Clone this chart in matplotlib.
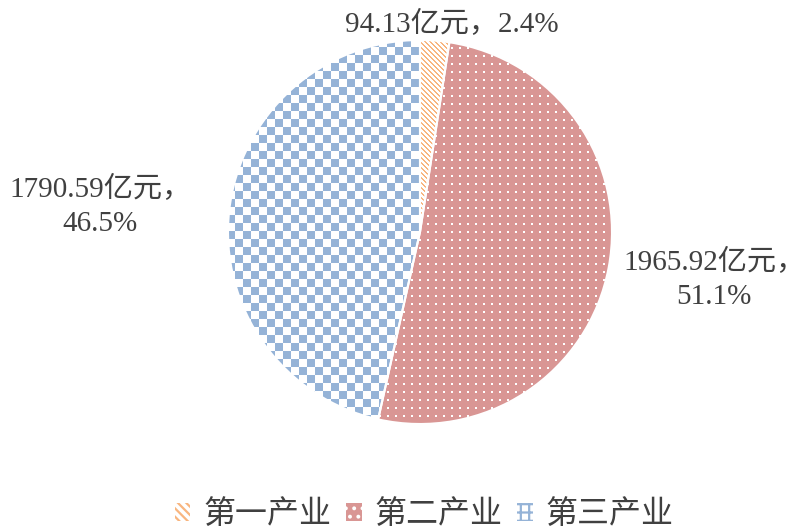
import matplotlib.pyplot as plt
import numpy as np
from matplotlib.patches import Patch, Wedge
from matplotlib.colors import to_rgb

plt.rcParams['font.family'] = ['Liberation Serif', 'Noto Sans CJK SC']
plt.rcParams['hatch.linewidth'] = 1.6

# 数据
categories = ['第一产业', '第二产业', '第三产业']
values = [94.13, 1965.92, 1790.59]
percents = ['2.4%', '51.1%', '46.5%']

colors = {
    'orange': '#F8B57F',
    'red': '#D99694',
    'blue': '#95B3D7',
    'text': '#404040',
}

fig = plt.figure(figsize=(8.11, 5.32), dpi=100)
ax = fig.add_axes([0, 0, 1, 1])

cx, cy, r = 420, 300, 192
wedges, _ = ax.pie(values, center=(cx, cy), radius=r, startangle=90,
                   counterclock=False, frame=True,
                   wedgeprops=dict(linewidth=0, facecolor='white'))

# 纹理 (像素级)
size = 2 * r + 2
rows, cols = np.mgrid[0:size, 0:size]

def texture(mask, fg, bg):
    img = np.empty((size, size, 3))
    img[:] = to_rgb(bg)
    img[mask] = to_rgb(fg)
    return img

tex = [
    texture((cols - rows) % 5 < 2, colors['orange'], 'white'),            # 斜线
    texture((rows % 8 < 2) & (cols % 8 < 2), 'white', colors['red']),    # 点
    texture(((rows // 8) + (cols // 8)) % 2 == 0, colors['blue'], 'white'),  # 棋盘格
]
for w, t in zip(wedges, tex):
    im = ax.imshow(t, extent=(cx - r - 1, cx + r + 1, cy - r - 1, cy + r + 1),
                   origin='upper', interpolation='nearest', zorder=2)
    im.set_clip_path(w)

# 白色分隔线
for w in wedges:
    ax.add_patch(Wedge((cx, cy), r, w.theta1, w.theta2, facecolor='none',
                       edgecolor='white', linewidth=1.5, zorder=3))

ax.set_xlim(0, 811)
ax.set_ylim(0, 532)
ax.set_aspect('equal')
ax.axis('off')

# 标签
fs = 21
ax.text(452, 508, f'{values[0]:.2f}亿元，{percents[0]}', ha='center', va='center',
        fontsize=fs, color=colors['text'])
ax.text(714, 253, f'{values[1]:.2f}亿元，\n{percents[1]}', ha='center', va='center',
        fontsize=fs, color=colors['text'], linespacing=1.4)
ax.text(100, 326, f'{values[2]:.2f}亿元，\n{percents[2]}', ha='center', va='center',
        fontsize=fs, color=colors['text'], linespacing=1.4)

handles = [
    Patch(facecolor='white', edgecolor=colors['orange'], hatch='\\\\\\\\', linewidth=0),
    Patch(facecolor=colors['red'], edgecolor='white', hatch='..', linewidth=0),
    Patch(facecolor='white', edgecolor=colors['blue'], hatch='++', linewidth=0),
]
ax.legend(handles, categories, loc='center', bbox_to_anchor=(424 / 811, 18 / 532),
          ncol=3, frameon=False, handlelength=0.5, handleheight=0.5,
          handletextpad=0.4, columnspacing=0.45, labelcolor=colors['text'],
          prop={'family': 'Noto Sans CJK SC', 'size': 23})

plt.savefig('out.png', dpi=100)
